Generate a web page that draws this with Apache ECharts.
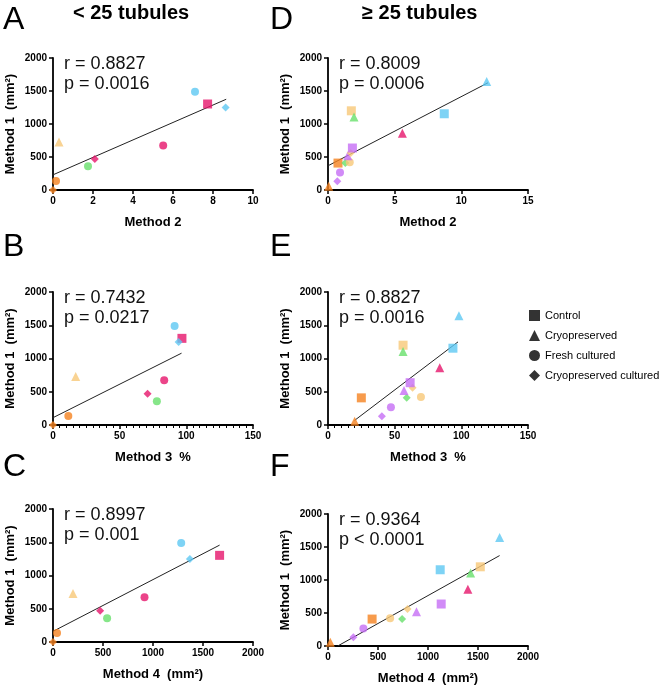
<!DOCTYPE html>
<html>
<head>
<meta charset="utf-8">
<script src="https://cdn.jsdelivr.net/npm/echarts@6/dist/echarts.min.js"></script>
<style>
html, body { margin: 0; padding: 0; background: #fff; }
#chart { width: 664px; height: 688px; }
</style>
</head>
<body>
<div id="chart"></div>
<script>
// < 25 tubules (panels A, B, C)
var lowMethod1 = [0, 135, 728, 358, 470, 673, 1490, 1303, 1250];
var lowMethod2 = [0, 0.15, 0.3, 1.75, 2.09, 5.51, 7.1, 7.73, 8.63];
var lowMethod3 = [0, 11.5, 17, 77.9, 70.9, 83.4, 91.2, 96.7, 94.2];
var lowMethod4 = [0, 40, 200, 541, 471, 915, 1282, 1666, 1369];
var lowGroup = ['cc', 'fc', 'cryo', 'fc', 'cc', 'fc', 'fc', 'ctrl', 'cc'];
var lowColor = ['orange', 'orange', 'peach', 'green', 'pink', 'pink', 'blue', 'pink', 'blue'];

// >= 25 tubules (panels D, E, F)
var highMethod1 = [55, 131, 267, 408, 410, 420, 520, 562, 636, 1200, 1105, 860, 1155, 1643];
var highMethod2 = [0.05, 0.7, 0.9, 0.75, 1.3, 1.63, 1.48, 1.7, 1.83, 1.75, 1.95, 5.58, 8.72, 11.9];
var highMethod3 = [20, 40.4, 47.2, 25, 59, 69.7, 57, 63.4, 61.6, 56.3, 56.3, 83.8, 93.7, 98.2];
var highMethod4 = [23, 254, 354, 441, 741, 621, 885, 795, 1132, 1523, 1426, 1399, 1122, 1716];
var highGroup = ['cryo', 'cc', 'fc', 'ctrl', 'cc', 'fc', 'cryo', 'cc', 'ctrl', 'ctrl', 'cryo', 'cryo', 'ctrl', 'cryo'];
var highColor = ['orange', 'purple', 'purple', 'orange', 'green', 'peach', 'purple', 'peach', 'purple', 'peach', 'green', 'pink', 'blue', 'blue'];

// regression lines, read as end points [x0, y0, x1, y1]
var fitA = [0, 230, 8.66, 1375];
var fitB = [0, 110, 96.4, 1080];
var fitC = [0, 160, 1666, 1457];
var fitD = [0, 367, 12, 1625];
var fitE = [20, 70, 97.5, 1250];
var fitF = [97, 0, 1716, 1370];

var statsR = ['r = 0.8827', 'r = 0.7432', 'r = 0.8997', 'r = 0.8009', 'r = 0.8827', 'r = 0.9364'];
var statsP = ['p = 0.0016', 'p = 0.0217', 'p = 0.001', 'p = 0.0006', 'p = 0.0016', 'p < 0.0001'];

var groupNames = ['Control', 'Cryopreserved', 'Fresh cultured', 'Cryopreserved cultured'];
var groupKeys = ['ctrl', 'cryo', 'fc', 'cc'];

var palette = {
    orange: '#F5821F',
    peach: '#F8C878',
    pink: '#E6156C',
    blue: '#5EC8F2',
    green: '#68E06C',
    purple: '#C56EF5'
};
var symbols = { ctrl: 'rect', cryo: 'triangle', fc: 'circle', cc: 'diamond' };
var sizes = { ctrl: 9, cryo: 9, fc: 8, cc: 8 };

var myChart = echarts.init(document.getElementById('chart'));

// panel order: A, B, C, D, E, F
var grids = [
    { left: 53, top: 58, width: 200, height: 132 },
    { left: 53, top: 292, width: 200, height: 133 },
    { left: 53, top: 509, width: 200, height: 133 },
    { left: 328, top: 58, width: 200, height: 132 },
    { left: 328, top: 292, width: 200, height: 133 },
    { left: 328, top: 514, width: 200, height: 132 }
];
var xMax = [10, 150, 2000, 15, 150, 2000];
var xStep = [2, 50, 500, 5, 50, 500];
var xName = ['Method 2', 'Method 3  %', 'Method 4  (mm²)', 'Method 2', 'Method 3  %', 'Method 4  (mm²)'];
var xMinor = [false, true, false, false, true, false];
var xData = [lowMethod2, lowMethod3, lowMethod4, highMethod2, highMethod3, highMethod4];
var fits = [fitA, fitB, fitC, fitD, fitE, fitF];

var axisLine = { lineStyle: { color: '#000', width: 1.8 } };
var axisTick = { length: 4, lineStyle: { color: '#000', width: 1.5 } };
var axisLabel = {
    color: '#000', fontSize: 10, fontWeight: 'bold', fontFamily: 'Liberation Sans', margin: 6,
    formatter: function (v) { return String(v); }
};
var nameStyle = { color: '#000', fontSize: 13, fontWeight: 'bold', fontFamily: 'Liberation Sans' };

var xAxis = [], yAxis = [], series = [], graphic = [];
for (var i = 0; i < 6; i++) {
    xAxis.push({
        gridIndex: i, type: 'value', min: 0, max: xMax[i], interval: xStep[i],
        name: xName[i], nameLocation: 'middle', nameGap: 26, nameTextStyle: nameStyle,
        axisLine: axisLine, axisTick: axisTick, axisLabel: axisLabel,
        minorTick: { show: xMinor[i], splitNumber: 10, length: 3, lineStyle: { color: '#000', width: 1 } },
        splitLine: { show: false }
    });
    yAxis.push({
        gridIndex: i, type: 'value', min: 0, max: 2000, interval: 500,
        name: 'Method 1  (mm²)', nameLocation: 'middle', nameGap: 36, nameTextStyle: nameStyle,
        axisLine: axisLine, axisTick: axisTick, axisLabel: axisLabel,
        splitLine: { show: false }
    });

    var low = i < 3;
    var ys = low ? lowMethod1 : highMethod1;
    var grp = low ? lowGroup : highGroup;
    var col = low ? lowColor : highColor;
    var pts = [];
    for (var k = 0; k < ys.length; k++) {
        pts.push({
            value: [xData[i][k], ys[k]],
            symbol: symbols[grp[k]],
            symbolSize: sizes[grp[k]],
            itemStyle: { color: palette[col[k]] }
        });
    }
    var f = fits[i];
    series.push({
        type: 'line', xAxisIndex: i, yAxisIndex: i, silent: true,
        data: [[f[0], f[1]], [f[2], f[3]]],
        showSymbol: false, symbol: 'none',
        lineStyle: { color: '#222', width: 1 }, z: 2
    });
    series.push({
        type: 'scatter', xAxisIndex: i, yAxisIndex: i, data: pts, z: 3
    });

    var g = grids[i];
    graphic.push({
        type: 'text', left: g.left + 11, top: g.top - 4,
        style: { text: statsR[i] + '\n' + statsP[i], fontSize: 18, lineHeight: 20, fill: '#111', fontFamily: 'Liberation Sans' }
    });
}

// legend entries
for (var j = 0; j < 4; j++) {
    series.push({
        type: 'scatter', name: groupNames[j], xAxisIndex: 4, yAxisIndex: 4, data: [],
        symbol: symbols[groupKeys[j]], itemStyle: { color: '#000' }
    });
}

var letters = [['A', 3, 4], ['B', 3, 231], ['C', 3, 451], ['D', 270, 4], ['E', 270, 231], ['F', 270, 451]];
letters.forEach(function (l) {
    graphic.push({
        type: 'text', left: l[1], top: l[2],
        style: { text: l[0], fontSize: 32, fill: '#000', fontFamily: 'Liberation Sans' }
    });
});
graphic.push({
    type: 'text', left: 73, top: 3,
    style: { text: '< 25 tubules', fontSize: 20, fontWeight: 'bold', fill: '#000', fontFamily: 'Liberation Sans' }
});
graphic.push({
    type: 'text', left: 362, top: 3,
    style: { text: '≥ 25 tubules', fontSize: 20, fontWeight: 'bold', fill: '#000', fontFamily: 'Liberation Sans' }
});

var option = {
    animation: false,
    backgroundColor: '#fff',
    grid: grids,
    xAxis: xAxis,
    yAxis: yAxis,
    legend: {
        orient: 'vertical', left: 524, top: 305,
        itemWidth: 11, itemHeight: 11, itemGap: 9,
        textStyle: { color: '#000', fontSize: 11, fontFamily: 'Liberation Sans' },
        data: [
            { name: 'Control', icon: 'rect' },
            { name: 'Cryopreserved', icon: 'triangle' },
            { name: 'Fresh cultured', icon: 'circle' },
            { name: 'Cryopreserved cultured', icon: 'diamond' }
        ],
        selectedMode: false
    },
    graphic: graphic,
    series: series
};
myChart.setOption(option);
</script>
</body>
</html>
